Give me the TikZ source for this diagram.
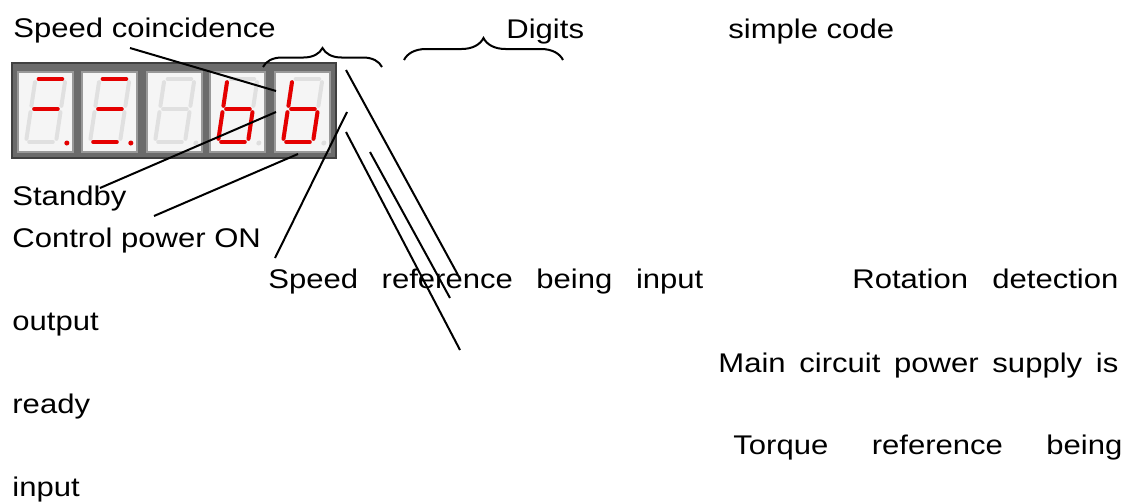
\documentclass[tikz,border=0pt]{standalone}
\usepackage{fontspec}
\setmainfont{Liberation Sans}[FakeStretch=1.15]
\usetikzlibrary{decorations.pathreplacing}

% one cell of the display: unlit segments, corners left as named coordinates
\newcommand{\ghostdigit}[1]{%
  \begin{scope}[shift={(#1,142)}, xslant=0.15]
    \coordinate (tl) at (8,-63);
    \coordinate (tr) at (38,-63);
    \coordinate (ml) at (8,-33);
    \coordinate (mr) at (38,-33);
    \coordinate (bl) at (8,0);
    \coordinate (br) at (38,0);
    \coordinate (dp) at (49,1);
    \foreach \p/\q in {tl/tr, tr/mr, mr/br, bl/br, ml/bl, tl/ml, ml/mr}
      \draw[segoff] (\p) -- (\q);
    \fill[black!13] (dp) circle (2.5);
  \end{scope}}

\begin{document}
\begin{tikzpicture}[
  x=0.5pt, y=-0.5pt,
  lbl/.style={anchor=base west, inner sep=0pt, font=\fontsize{13.5}{16}\selectfont},
  seg/.style={line width=2pt, line cap=round, shorten <=1.6pt, shorten >=1.6pt},
  segoff/.style={seg, draw=black!12},
  segon/.style={seg, draw=red!90!black},
  frame/.style={draw=black!75, fill=black!58, line width=1pt},
  cellbox/.style={draw=black!40, fill=black!4, line width=0.6pt},
  leader/.style={line width=1pt},
  brace/.style={line width=1pt, decorate, decoration={brace, amplitude=#1}}
]
  \useasboundingbox (0,0) rectangle (1127,503);

  % display
  \draw[frame] (12,63) rectangle (336,158);
  \foreach \x in {18,82,147,210,275}
    \draw[cellbox] (\x,72) rectangle +(55,80);

  % F.
  \ghostdigit{18}
  \foreach \p/\q in {tl/tr, ml/mr}
    \draw[segon] (\p) -- (\q);
  \fill[red!90!black] (dp) circle (2.5);
  % three bars with point
  \ghostdigit{82}
  \foreach \p/\q in {tl/tr, ml/mr, bl/br}
    \draw[segon] (\p) -- (\q);
  \fill[red!90!black] (dp) circle (2.5);
  % blank
  \ghostdigit{147}
  % b
  \ghostdigit{210}
  \foreach \p/\q in {tl/ml, ml/bl, bl/br, br/mr, ml/mr}
    \draw[segon] (\p) -- (\q);
  % b
  \ghostdigit{275}
  \foreach \p/\q in {tl/ml, ml/bl, bl/br, br/mr, ml/mr}
    \draw[segon] (\p) -- (\q);

  % braces
  \draw[brace=9.5pt] (263,67) -- (382,67);
  \draw[brace=11pt] (404,60) -- (563,60);

  % labels
  \node[lbl] (coin) at (13,37) {Speed coincidence};
  \node[lbl] (digits) at (506,38) {Digits};
  \node[lbl] (simple) at (728,38) {simple code};
  \node[lbl] (standby) at (12,205) {Standby};
  \node[lbl] (ctrl) at (12,247) {Control power ON};
  \node[lbl] (spdref) at (268,288) {\makebox[217.5pt][s]{Speed reference being input}};
  \node[lbl] (rot) at (852,288) {\makebox[133pt][s]{Rotation detection}};
  \node[lbl] (rotb) at (12,330) {output};
  \node[lbl] (main) at (718,372) {\makebox[200pt][s]{Main circuit power supply is}};
  \node[lbl] (mainb) at (12,413) {ready};
  \node[lbl] (torque) at (733,454) {\makebox[194.5pt][s]{Torque reference being}};
  \node[lbl] (torqueb) at (12,496) {input};

  % leader ends
  \coordinate (coin-a) at (130,48);
  \coordinate (coin-b) at (276,91);
  \coordinate (standby-a) at (100,188);
  \coordinate (standby-b) at (276,112);
  \coordinate (ctrl-a) at (154,216);
  \coordinate (ctrl-b) at (298,154);
  \coordinate (spdref-a) at (275,258);
  \coordinate (spdref-b) at (347,112);
  \coordinate (rot-a) at (346,70);
  \coordinate (rot-b) at (458,275);
  \coordinate (main-a) at (370,152);
  \coordinate (main-b) at (450,298);
  \coordinate (torque-a) at (346,132);
  \coordinate (torque-b) at (460,350);

  \foreach \n in {coin,standby,ctrl,spdref,rot,main,torque}
    \draw[leader] (\n-a) -- (\n-b);
\end{tikzpicture}
\end{document}
